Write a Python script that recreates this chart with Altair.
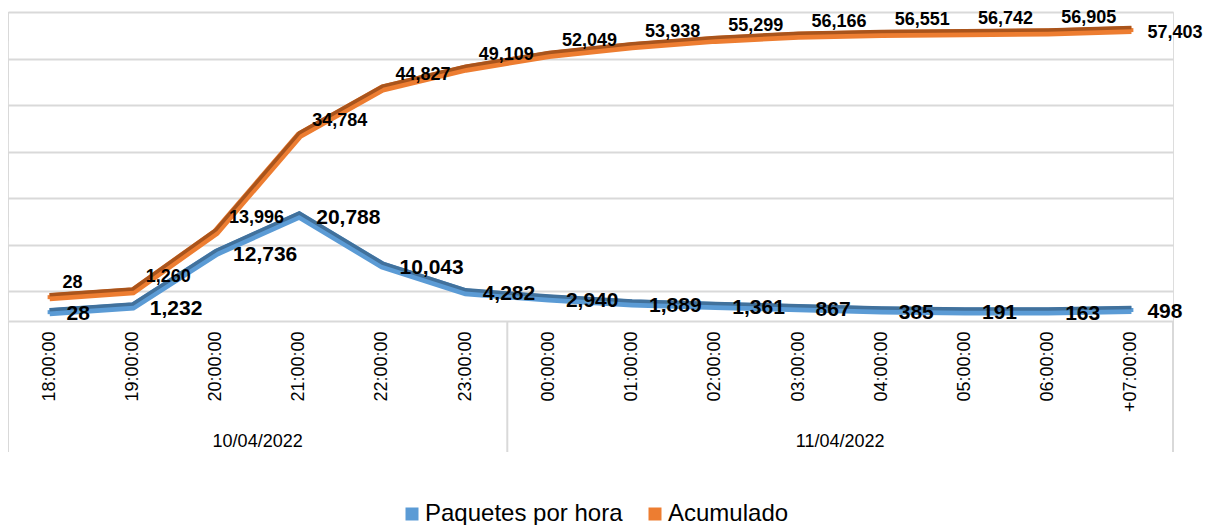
import altair as alt
import pandas as pd

# ---------------- data ----------------
hours = ["18:00:00", "19:00:00", "20:00:00", "21:00:00", "22:00:00", "23:00:00",
         "00:00:00", "01:00:00", "02:00:00", "03:00:00", "04:00:00", "05:00:00",
         "06:00:00", "+07:00:00"]
date_labels = ["10/04/2022", "11/04/2022"]
date_group_sizes = [6, 8]
paquetes = [28, 1232, 12736, 20788, 10043, 4282, 2940, 1889, 1361, 867, 385, 191, 163, 498]
acumulado = [28, 1260, 13996, 34784, 44827, 49109, 52049, 53938, 55299, 56166,
             56551, 56742, 56905, 57403]
series_names = ["Paquetes por hora", "Acumulado"]
grid_values = [0, 10000, 20000, 30000, 40000, 50000, 60000]

# ---------------- style ----------------
series_colors = ["#5b9bd5", "#ed7d31"]
series_dark = ["#41719c", "#a9541c"]
FONT = "Liberation Sans"
W, H = 1165, 309
GRID = "#d9d9d9"

df = pd.DataFrame({
    "hour": hours * 2,
    "series": [series_names[0]] * len(hours) + [series_names[1]] * len(hours),
    "value": paquetes + acumulado,
})

x_scale = alt.Scale(type="band", domain=hours, paddingInner=0, paddingOuter=0)
y_scale = alt.Scale(domain=[-6380, 60000], nice=False, zero=False)
fill_scale = alt.Scale(domain=series_names, range=series_colors)

x_axis = alt.Axis(title=None, labelAngle=270, labelFontSize=18, labelColor="black",
                  labelFont=FONT, labelPadding=10, ticks=False, domainColor=GRID,
                  domainWidth=2, grid=False, labelOverlap=False)
y_axis = alt.Axis(title=None, values=grid_values, labels=False, ticks=False,
                  domain=False, grid=True, gridColor=GRID, gridWidth=2)


def X(band=0.5):
    return alt.X("hour:N", scale=x_scale, bandPosition=band, axis=x_axis, sort=hours)


def Y(field="value"):
    return alt.Y(f"{field}:Q", scale=y_scale, axis=y_axis)


# left wall edges under each gridline
wall = alt.Chart(pd.DataFrame({"v": grid_values})).mark_rule(
    color=GRID, strokeWidth=2, y2Offset=29
).encode(x=alt.value(0), y=Y("v"), y2="v:Q")

# category group boundaries and date labels
starts, centers = [], []
pos = 0
for n in date_group_sizes:
    starts.append(hours[pos])
    centers.append(hours[pos + n // 2])
    pos += n

b_start = alt.Chart(pd.DataFrame({"hour": starts})).mark_rule(
    color=GRID, strokeWidth=2
).encode(x=X(0), y=alt.value(H), y2=alt.value(H + 131))
b_end = alt.Chart(pd.DataFrame({"hour": [hours[-1]]})).mark_rule(
    color=GRID, strokeWidth=2
).encode(x=X(1), y=alt.value(H), y2=alt.value(H + 131))
dates = alt.Chart(pd.DataFrame({"hour": centers, "date": date_labels})).mark_text(
    fontSize=18, font=FONT, color="black", baseline="middle", align="center"
).encode(x=X(0), y=alt.value(H + 121), text="date:N")

legend = alt.Legend(title=None, orient="none", legendX=392, legendY=490,
                    direction="horizontal", symbolType="square", symbolSize=169,
                    symbolStrokeWidth=0, labelFontSize=24, labelFont=FONT,
                    labelColor="black", columnPadding=20, labelOffset=1, padding=0,
                    labelLimit=400)


def series_layers(name, light, dark, off, lab_dx, lab_dy, lab_size, last_dy):
    src = alt.Chart(df).transform_filter(alt.datum.series == name)
    sq = src.mark_point(shape="square", filled=True, size=16, opacity=1, yOffset=off).encode(
        x=X(), y=Y(), fill=alt.Fill("series:N", scale=fill_scale, legend=legend))
    base_line = src.mark_line(color=light, strokeWidth=8, yOffset=off).encode(x=X(), y=Y())
    top_line = src.mark_line(color=dark, strokeWidth=3.5, yOffset=off - 2.5).encode(x=X(), y=Y())
    text_style = dict(align="left", baseline="middle", fontSize=lab_size,
                      fontWeight="bold", font=FONT, color="black")
    labels = src.transform_filter(alt.datum.hour != hours[-1]).mark_text(
        dx=lab_dx, dy=lab_dy, **text_style).encode(
        x=X(), y=Y(), text=alt.Text("value:Q", format=","))
    last_label = src.transform_filter(alt.datum.hour == hours[-1]).mark_text(
        dx=16, dy=last_dy, **text_style).encode(
        x=X(), y=Y(), text=alt.Text("value:Q", format=","))
    return [sq, base_line, top_line, labels, last_label]


acu_layers = series_layers(series_names[1], series_colors[1], series_dark[1], 6, 13, -8, 18, 9)
paq_layers = series_layers(series_names[0], series_colors[0], series_dark[0], 21, 17, 23, 21, 23)

chart = alt.layer(
    wall, b_start, b_end, dates,
    acu_layers[0], paq_layers[0],
    acu_layers[1], acu_layers[2],
    paq_layers[1], paq_layers[2],
    acu_layers[3], acu_layers[4], paq_layers[3], paq_layers[4],
).properties(
    width=W, height=H,
    autosize=alt.AutoSizeParams(type="none"),
    padding={"left": 0, "top": 4, "right": 31, "bottom": 204},
).configure_view(strokeWidth=0).configure(font=FONT)

chart.save("out.html", embed_options={"renderer": "svg", "actions": False})
